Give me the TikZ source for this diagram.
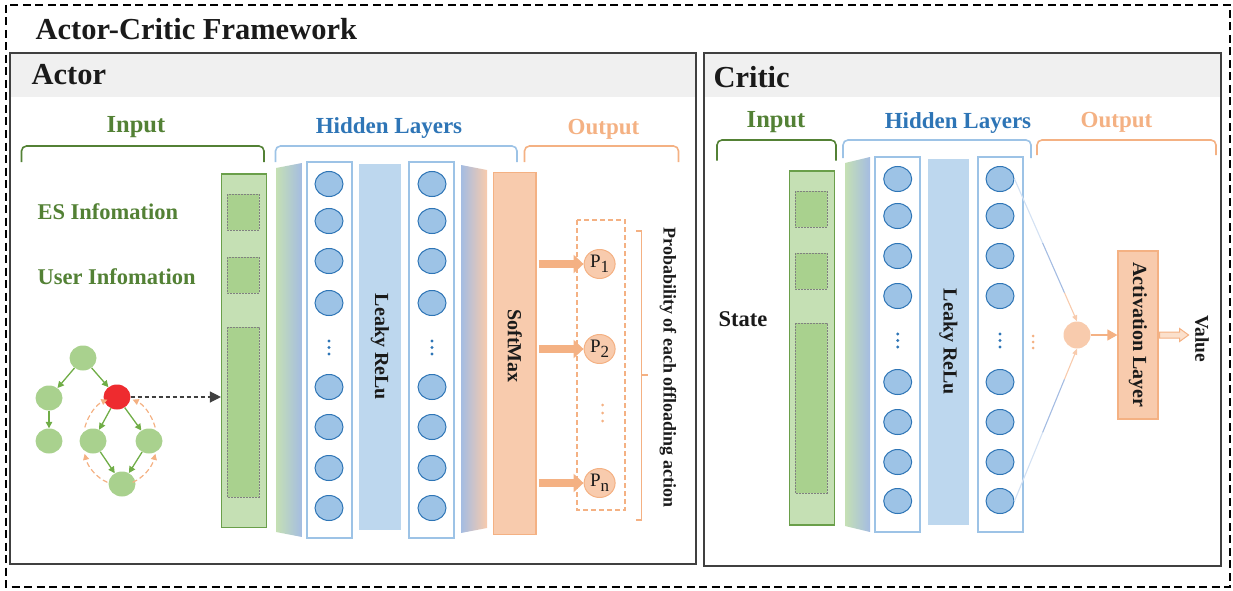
\documentclass[tikz,border=0pt]{standalone}
\usepackage{fontspec}
\setmainfont{Liberation Serif}
\usetikzlibrary{arrows.meta,calc,shapes.geometric}

\definecolor{gDark}{HTML}{538135}
\definecolor{gEdge}{HTML}{6A9F4A}
\definecolor{gArrow}{HTML}{70AD47}
\definecolor{gLight}{HTML}{C5E0B4}
\definecolor{gMid}{HTML}{A9D18E}
\definecolor{bText}{HTML}{2E75B6}
\definecolor{bLine}{HTML}{9DC3E6}
\definecolor{bBar}{HTML}{BDD7EE}
\definecolor{bShade}{HTML}{A4BCE2}
\definecolor{bPale}{HTML}{D3E1F3}
\definecolor{oText}{HTML}{F4B183}
\definecolor{oFill}{HTML}{F8CBAD}
\definecolor{oPale}{HTML}{FBE0CC}
\definecolor{hdr}{HTML}{F0F0F0}
\definecolor{frame}{HTML}{404040}
\definecolor{redNode}{HTML}{EE2B2F}
\definecolor{ink}{HTML}{1A1A1A}

\newcommand{\setfs}[1]{\fontsize{#1}{#1}\selectfont}

\tikzset{
  panel/.style={draw=frame, line width=1.4},
  header/.style={fill=hdr},
  heading/.style={anchor=west, text=ink, font={\bfseries\setfs{30.5}}},
  grouplbl/.style={font={\bfseries\setfs{23}}},
  inlbl/.style={text=gDark, font={\bfseries\setfs{24.5}}},
  infolbl/.style={anchor=west, text=gDark, font={\bfseries\setfs{22.5}}},
  vlbl/.style={rotate=-90, text=ink, font={\bfseries\setfs{20}}},
  bracket/.style={line width=1.6, rounded corners=5pt},
  inbar/.style={fill=gLight, draw=gEdge, line width=1.5, inner sep=0, minimum width=45},
  slot/.style={fill=gMid, draw=black!50, line width=0.8, dash pattern=on 2pt off 1pt},
  column/.style={draw=bLine, fill=white, line width=2},
  relu/.style={fill=bBar},
  neuron/.style={ellipse, fill=bLine, draw=bText, line width=1, minimum width=28, minimum height=25, inner sep=0},
  ndot/.style={fill=bText},
  obar/.style={fill=oFill, draw=oText, line width=1.2, inner sep=0},
  pnode/.style={ellipse, fill=oFill, draw=oText, line width=1, minimum width=31, minimum height=29, inner sep=0, text=ink},
  fatarrow/.style={draw=oText, line width=7.5, -{Triangle[length=10pt,width=18pt]}},
  dagnode/.style={ellipse, fill=gMid, minimum width=27, minimum height=25, inner sep=0},
  dagedge/.style={draw=gArrow, line width=1.3, -{Triangle[length=6.5pt,width=6.5pt]}},
  loopedge/.style={draw=oText, line width=1.2, dash pattern=on 5pt off 3pt, -{Triangle[length=6pt,width=6pt]}},
  fadeA/.style={draw=bPale, line width=1.1},
  fadeB/.style={draw=bShade, line width=1.1},
  fadeC/.style={draw=oFill, line width=1.1},
}

\begin{document}
\begin{tikzpicture}[x=1pt,y=-1pt]
\useasboundingbox (0,0) rectangle (1233,591);

% outer framework border and title
\draw[line width=1.6, dash pattern=on 8pt off 4.5pt] (6,5) rectangle (1230,587);
\node[heading] (title) at (32,29) {Actor-Critic Framework};

% ---------------- Actor panel ----------------
\fill[header] (10,53) rectangle (696,97);
\draw[panel] (10,53) rectangle (696,564);
\node[heading] (actorT) at (28,75) {Actor};

\node[inlbl] (aInL) at (136,127) {Input};
\node[grouplbl, text=bText] (aHidL) at (389,128) {Hidden Layers};
\node[grouplbl, text=oText] (aOutL) at (603.5,129) {Output};
\draw[bracket, gDark] (21.5,162) -- (21.5,146) -- (264,146) -- (264,162);
\draw[bracket, bLine] (275.5,162) -- (275.5,146) -- (517,146) -- (517,162);
\draw[bracket, oText] (524.5,162) -- (524.5,146) -- (678.5,146) -- (678.5,162);

\node[infolbl] (esL) at (34,212) {ES Infomation};
\node[infolbl] (userL) at (34,277) {User Infomation};

% input vector
\node[inbar, minimum height=353.7] (ain) at (244.2,350.85) {};
\draw[slot] (227,194) rectangle (259,230);
\draw[slot] (227,257) rectangle (259,293);
\draw[slot] (227,327) rectangle (259,497);

% task graph
\node[dagnode] (t0) at (83,358) {};
\node[dagnode] (t1) at (49,398) {};
\node[dagnode, fill=redNode] (t2) at (117,397) {};
\node[dagnode] (t3) at (49,441) {};
\node[dagnode] (t4) at (93,441) {};
\node[dagnode] (t5) at (149,441) {};
\node[dagnode] (t6) at (122,484) {};
\draw[dagedge] (t0) -- (t1);
\draw[dagedge] (t0) -- (t2);
\draw[dagedge] (t1) -- (t3);
\draw[dagedge] (t2) -- (t4);
\draw[dagedge] (t2) -- (t5);
\draw[dagedge] (t4) -- (t6);
\draw[dagedge] (t5) -- (t6);
% scheduling loop around the selected task
\draw[loopedge] (120,441) ++(110:37 and 44) arc[start angle=110, end angle=163, x radius=37, y radius=44];
\draw[loopedge] (120,441) ++(198:37 and 44) arc[start angle=198, end angle=250, x radius=37, y radius=44];
\draw[loopedge] (120,441) ++(-18:37 and 44) arc[start angle=-18, end angle=-70, x radius=37, y radius=44];
\draw[loopedge] (120,441) ++(70:37 and 44) arc[start angle=70, end angle=17, x radius=37, y radius=44];
\draw[draw=frame, line width=1.2, dash pattern=on 4pt off 3pt, -{Triangle[length=11pt,width=11pt]}] (t2) -- (t2 -| ain.west);

% hidden layers
\shade[left color=gLight, right color=bShade] (276,168) -- (302,163) -- (302,537) -- (276,532) -- cycle;
\draw[column] (307,162) rectangle (352,538);
\fill[relu] (359,164) rectangle (401,530);
\node[vlbl] (aRelu) at (380,347) {Leaky ReLu};
\draw[column] (409,162) rectangle (454,538);
\foreach \yy [count=\i] in {184,221,261,303,387,427,468,508} {
  \node[neuron] (a1n\i) at (329,\yy) {};
  \node[neuron] (a2n\i) at (432,\yy) {};
}
\foreach \xx in {329,432} {
  \foreach \yy in {341,347.5,354} \fill[ndot] (\xx,\yy) circle (1.6);
}
\shade[left color=bShade, right color=oFill] (461,165) -- (487,170) -- (487,528) -- (461,533) -- cycle;

% output
\node[obar, minimum width=42.4, minimum height=362.1] (soft) at (514.8,353.55) {};
\node[vlbl] (softL) at (514.8,346) {SoftMax};
\draw[oText, line width=1.3, dash pattern=on 5pt off 3pt] (577,220) rectangle (625,510);
\node[pnode] (p1) at (599.6,264) {\setfs{19}P\raisebox{-5pt}{\setfs{17}1}};
\node[pnode] (p2) at (599.6,349) {\setfs{19}P\raisebox{-5pt}{\setfs{17}2}};
\node[pnode] (pn) at (599.6,483) {\setfs{19}P\raisebox{-5pt}{\setfs{17}n}};
\foreach \p in {p1,p2,pn} \draw[fatarrow] ($(soft.east |- \p)+(2,0)$) -- (\p.west);
\foreach \yy in {405,413,421} \fill[oText] (602.7,\yy) circle (1.5);
\draw[oText, line width=1.2] (636,231) -- (641.7,231) -- (641.7,520) -- (636,520);
\draw[oText, line width=1.2] (641.7,375) -- (647.5,375);
\node[rotate=-90, text=ink, font={\bfseries\setfs{18}}] (probL) at (668,367.5) {Probability of each offloading action};

% ---------------- Critic panel ----------------
\fill[header] (704,53) rectangle (1221,97);
\draw[panel] (704,53) rectangle (1221,566);
\node[heading] (criticT) at (710,77) {Critic};

\node[inlbl] (cInL) at (776,122) {Input};
\node[grouplbl, text=bText] (cHidL) at (958,123) {Hidden Layers};
\node[grouplbl, text=oText] (cOutL) at (1116.5,122) {Output};
\draw[bracket, gDark] (717,160.5) -- (717,140) -- (836,140) -- (836,160.5);
\draw[bracket, bLine] (843,158) -- (843,140) -- (1031,140) -- (1031,158);
\draw[bracket, oText] (1037,155) -- (1037,140) -- (1216,140) -- (1216,155);

\node[infolbl, text=ink] (stateL) at (715,319) {State};

\node[inbar, minimum height=354] (cin) at (812,348) {};
\draw[slot] (795,191) rectangle (827,227);
\draw[slot] (795,253) rectangle (827,289);
\draw[slot] (795,323) rectangle (827,493);

\shade[left color=gLight, right color=bShade] (845,163) -- (870,157) -- (870,532) -- (845,526) -- cycle;
\draw[column] (875,156.7) rectangle (920,532);
\fill[relu] (928,159) rectangle (969,525);
\node[vlbl] (cRelu) at (948.5,342) {Leaky ReLu};
\draw[column] (978,156.7) rectangle (1023,532);
\foreach \yy [count=\i] in {179,216,256,296,382,422,462,501} {
  \node[neuron] (c1n\i) at (897.7,\yy) {};
  \node[neuron] (c2n\i) at (1000,\yy) {};
}
\foreach \xx in {897.7,1000} {
  \foreach \yy in {334,340.5,347} \fill[ndot] (\xx,\yy) circle (1.6);
}
\foreach \yy in {336,342,348} \fill[oText] (1033,\yy) circle (1.5);

% value head
\node[circle, fill=oFill, minimum size=27, inner sep=0] (cn) at (1077,335) {};
\coordinate (sTop) at (c2n1.east);
\coordinate (sBot) at (c2n8.east);
\foreach \s/\e in {sTop/cn.north, sBot/cn.south} {
  \draw[fadeA] (\s) -- ($(\s)!0.45!(\e)$);
  \draw[fadeB] ($(\s)!0.45!(\e)$) -- ($(\s)!0.8!(\e)$);
  \draw[fadeC, -{Triangle[length=6pt,width=5pt]}] ($(\s)!0.8!(\e)$) -- (\e);
}
\node[obar, minimum width=40, minimum height=168] (act) at (1138,335) {};
\node[vlbl] (actL) at (1138,335) {Activation Layer};
\draw[oText, line width=1.3, -{Triangle[length=10pt,width=11pt]}] (cn.east) -- (act.west);
\draw[oText, fill=oPale, line width=1] ($(act.east)+(1,-3)$) -- ++(20,0) -- ++(0,-3.5) -- ++(9,6.5) -- ++(-9,6.5) -- ++(0,-3.5) -- ++(-20,0) -- cycle;
\node[vlbl, font={\bfseries\setfs{19.5}}] (valL) at (1202,339) {Value};

\end{tikzpicture}
\end{document}
